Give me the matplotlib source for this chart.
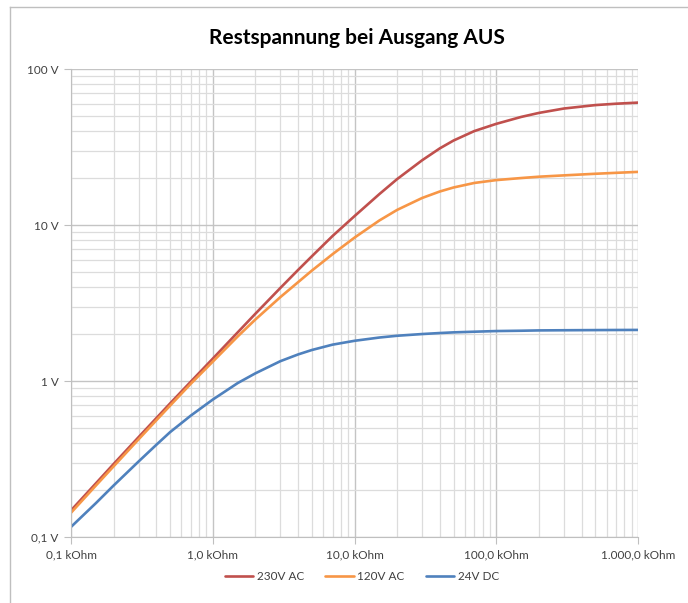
import matplotlib
matplotlib.use("Agg")
import matplotlib.pyplot as plt
from matplotlib.lines import Line2D
from matplotlib.ticker import FixedLocator, LogLocator, NullFormatter

# Widerstand in kOhm
r_kohm = [0.1, 0.15, 0.2, 0.3, 0.4, 0.5, 0.7, 1, 1.5, 2, 3, 4, 5, 7, 10, 15, 20,
          30, 40, 50, 70, 100, 150, 200, 300, 500, 700, 1000]

# Restspannung in V
v_230ac = [0.148, 0.221, 0.294, 0.437, 0.578, 0.718, 0.99, 1.39, 2.05, 2.70,
           3.95, 5.15, 6.30, 8.5, 11.4, 15.8, 19.7, 26.0, 31.0, 34.8, 40.0,
           44.5, 49.3, 52.3, 55.8, 58.7, 59.9, 60.9]
v_120ac = [0.143, 0.214, 0.284, 0.423, 0.56, 0.695, 0.96, 1.33, 1.93, 2.48,
           3.45, 4.3, 5.1, 6.5, 8.3, 10.7, 12.5, 14.9, 16.4, 17.4, 18.6,
           19.4, 20.0, 20.4, 20.8, 21.3, 21.6, 21.9]
v_24dc = [0.116, 0.165, 0.214, 0.305, 0.39, 0.47, 0.60, 0.76, 0.97, 1.12,
          1.34, 1.48, 1.58, 1.71, 1.81, 1.90, 1.95, 2.00, 2.03, 2.05, 2.07,
          2.09, 2.10, 2.11, 2.115, 2.12, 2.123, 2.125]

series_names = ["230V AC", "120V AC", "24V DC"]
series_colors = ["#C0504D", "#F79646", "#4F81BD"]

x_ticks = [0.1, 1, 10, 100, 1000]
x_labels = ["0,1 kOhm", "1,0 kOhm", "10,0 kOhm", "100,0 kOhm", "1.000,0 kOhm"]
y_ticks = [0.1, 1, 10, 100]
y_labels = ["0,1 V", "1 V", "10 V", "100 V"]

plt.rcParams["font.family"] = ["Lato", "DejaVu Sans"]

fig = plt.figure(figsize=(6.88, 6.03), dpi=100)
ax = fig.add_axes([71 / 688, 1 - 537 / 603, 567 / 688, 468 / 603])

for ys, name, col in zip([v_230ac, v_120ac, v_24dc], series_names, series_colors):
    ax.plot(r_kohm, ys, color=col, linewidth=1.9, label=name,
            solid_capstyle="round", solid_joinstyle="round")

ax.set_xscale("log")
ax.set_yscale("log")
ax.set_xlim(0.1, 1000)
ax.set_ylim(0.1, 100)

ax.xaxis.set_major_locator(FixedLocator(x_ticks))
ax.set_xticklabels(x_labels)
ax.yaxis.set_major_locator(FixedLocator(y_ticks))
ax.set_yticklabels(y_labels)
for axis in (ax.xaxis, ax.yaxis):
    axis.set_minor_locator(LogLocator(base=10, subs=range(2, 10)))
    axis.set_minor_formatter(NullFormatter())

ax.grid(True, which="major", color="#c4c4c4", linewidth=1.0)
ax.grid(True, which="minor", color="#dcdcdc", linewidth=0.9)
ax.set_axisbelow(True)

for side in ["top", "right"]:
    ax.spines[side].set_visible(False)
for side in ["left", "bottom"]:
    ax.spines[side].set_color("#bfbfbf")

ax.tick_params(which="major", length=5, color="#bfbfbf", labelsize=8.5,
               labelcolor="#404040", pad=4)
ax.tick_params(which="minor", length=0)

fig.text(357 / 688, 1 - 38 / 603, "Restspannung bei Ausgang AUS", ha="center",
         va="center", fontsize=15, fontweight="bold", color="black")

ax.legend(loc="center", bbox_to_anchor=(362 / 688, 1 - 577 / 603),
          bbox_transform=fig.transFigure, ncol=3, frameon=False, fontsize=8.5,
          handlelength=2.4, columnspacing=1.8, handletextpad=0.3,
          labelcolor="#404040")

# Rahmen des Diagrammbereichs (links und oben sichtbar)
fig.add_artist(Line2D([10 / 688, 10 / 688], [0, 1 - 7 / 603], transform=fig.transFigure,
                      color="#bfbfbf", linewidth=1.0))
fig.add_artist(Line2D([10 / 688, 1], [1 - 7 / 603, 1 - 7 / 603], transform=fig.transFigure,
                      color="#bfbfbf", linewidth=1.0))

fig.savefig("out.png", dpi=100)
